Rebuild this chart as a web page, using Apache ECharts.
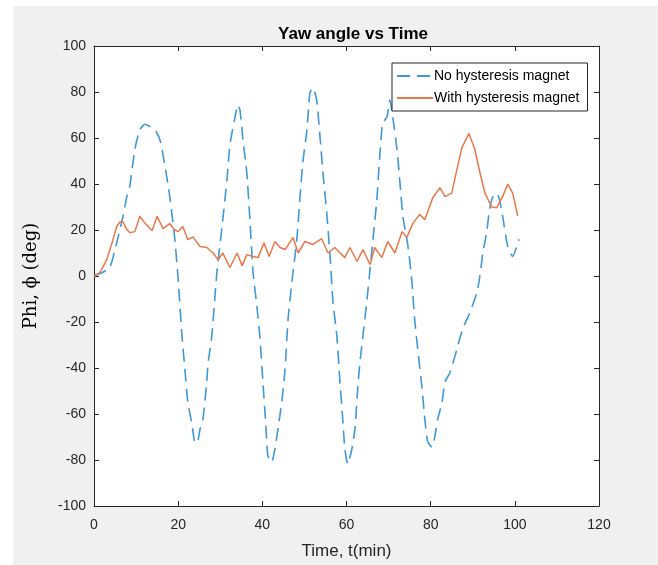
<!DOCTYPE html>
<html>
<head>
<meta charset="utf-8">
<script src="https://cdn.jsdelivr.net/npm/echarts@6/dist/echarts.min.js"></script>
<style>
html,body{margin:0;padding:0;background:#fff;}
#main{width:658px;height:565px;}
</style>
</head>
<body>
<div id="main"></div>
<script>
// ---- data ----
var titleText = 'Yaw angle vs Time';
var xName = 'Time, t(min)';
var yName = 'Phi, \u03d5 (deg)';
var seriesNames = ['No hysteresis magnet', 'With hysteresis magnet'];
var xTicks = [0, 20, 40, 60, 80, 100, 120];
var yTicks = [-100, -80, -60, -40, -20, 0, 20, 40, 60, 80, 100];

var noHystT = [0,2,3.8,5,6.9,7.8,8.5,9.7,10.9,12.1,13.3,14.5,15.7,16.9,18,19.2,20,20.9,21.6,22.3,23.2,23.9,24.5,25.2,25.9,26.8,27.1,28,29.2,30.4,31.6,32.3,33.5,34.2,34.7,35.4,36.3,37,37.8,38.6,39.4,40.1,40.8,41.3,42.2,43,43.7,44.6,45.4,46.1,47,48.2,48.9,49.6,50.6,51.3,52,52.9,53.7,54.4,55.3,56.1,56.8,57.7,58.4,59.1,59.6,60.3,61.3,62,62.7,63.2,63.9,64.8,65.6,66.3,67.2,67.9,68.6,69.6,70.3,71,72,72.7,73.4,74.6,75.5,76.2,77,77.9,78.6,79.3,80.3,81,81.7,82.7,83.4,84.6,86.2,87.6,89.3,91,91.7,92.4,93.3,94,94.8,95.7,96.4,97.1,98.3,99.5,100.5,101];
var noHystV = [0,1.5,4,11.5,26,34.5,39,55,63.6,66,65,63.6,59,47.5,34.5,16,-1.5,-26,-40.5,-55,-63.6,-71.8,-72.7,-66.6,-62,-46,-38,-26,1.5,21,42,57,69,74.4,72,59,45,26,1.5,-11.5,-26,-45,-64,-78,-81,-75,-66.6,-55,-40.5,-19,-3,16,33,49,63.6,79.6,81.8,76.6,60.6,45,27.5,8.5,-11.5,-26,-45,-62,-75,-81.8,-75,-66.6,-48,-37.5,-26,-11.5,3,16,33,52,66.6,69,76.6,69,55,40.5,26,13,-1.5,-19,-33,-48,-62,-72,-74.4,-69.6,-62,-55,-46,-42,-32,-23,-16,-7,0,10,19,29,34.5,36,33,26,13,8.5,13,16];

var withHystT = [0,1.4,3,4.3,5.4,6.2,6.9,7.7,8.5,9.7,10.9,12.1,13.8,15,16.4,18,19.2,20,21.1,22.3,23.5,25.2,26.8,28.3,29.5,30.6,32.3,34,35.2,36.3,37.8,39,40.4,41.6,43,44.2,45.4,47.3,48.5,50.1,52,54.1,55.6,57.2,59.6,60.8,62.5,63.9,65.6,66.7,68.4,69.8,71.5,73.2,74.3,75.8,77.4,78.6,80.5,82.2,83.4,85,86.2,87.4,89.1,90.5,91.7,92.9,94.5,95.7,97.1,98.3,99.5,100.7];
var withHystV = [0,1.5,7,14.5,21.5,23.6,23.6,20.5,18.8,19.3,26,23,19.7,26,20.6,22.8,20,19.3,21.5,15.8,17,12.8,12.4,10,7,10,3.7,10,4.5,9.3,8.5,8,14.5,8.5,15,12.4,11.5,16.7,10,15,13.7,16.2,10,12.4,8,12.4,6.3,11.5,5,12.4,8,15,10,19.3,16.7,23,26.7,24.5,34,38.4,34.5,36,46,55.7,62,55,45,36,30,29.7,34.5,40,36,26];

function pairs(t, v) { return t.map(function (x, i) { return [x, v[i]]; }); }

var FONT = "'Liberation Sans', Arial, Helvetica, sans-serif";
var AX = '#262626';
var chart = echarts.init(document.getElementById('main'), null, {renderer: 'canvas'});

var baseX = {
  type: 'value', min: xTicks[0], max: xTicks[xTicks.length - 1], interval: 20,
  axisLine: {show: true, onZero: false, lineStyle: {color: AX, width: 1}},
  axisTick: {show: true, inside: true, length: 5, lineStyle: {color: AX}},
  splitLine: {show: false}
};
var baseY = {
  type: 'value', min: yTicks[0], max: yTicks[yTicks.length - 1], interval: 20,
  axisLine: {show: true, onZero: false, lineStyle: {color: AX, width: 1}},
  axisTick: {show: true, inside: true, length: 5, lineStyle: {color: AX}},
  splitLine: {show: false}
};

chart.setOption({
  backgroundColor: '#ffffff',
  animation: false,
  graphic: [{
    type: 'rect', z: -10, silent: true,
    shape: {x: 13, y: 6, width: 658 - 13, height: 565 - 6},
    style: {fill: '#f0f0f0'}
  }],
  title: {
    text: titleText, left: 348, top: 21, textAlign: 'center',
    textStyle: {fontFamily: FONT, fontSize: 17, fontWeight: 'bold', color: '#000'}
  },
  grid: {left: 94, right: 59, top: 46, bottom: 58, show: true, backgroundColor: '#ffffff', borderWidth: 0, containLabel: false},
  legend: {
    orient: 'vertical', left: 392, top: 63,
    itemWidth: 36, itemHeight: 12, itemGap: 8,
    padding: [6, 8, 6, 4],
    backgroundColor: '#ffffff', borderColor: AX, borderWidth: 1, borderRadius: 0,
    itemStyle: {opacity: 0},
    textStyle: {fontFamily: FONT, fontSize: 14, color: '#000', padding: [0, 0, 0, -4]},
    data: seriesNames
  },
  xAxis: [
    Object.assign({}, baseX, {
      position: 'bottom',
      axisLabel: {show: true, margin: 12, fontFamily: FONT, fontSize: 14, color: AX},
      name: xName, nameLocation: 'middle', nameGap: 37,
      nameTextStyle: {fontFamily: FONT, fontSize: 17, color: AX}
    }),
    Object.assign({}, baseX, {position: 'top', axisLabel: {show: false}})
  ],
  yAxis: [
    Object.assign({}, baseY, {
      position: 'left',
      axisLabel: {show: true, margin: 8, fontFamily: FONT, fontSize: 14, color: AX},
      name: yName, nameLocation: 'middle', nameGap: 54,
      nameTextStyle: {fontFamily: "'DejaVu Serif', serif", fontSize: 18, color: '#000'}
    }),
    Object.assign({}, baseY, {position: 'right', axisLabel: {show: false}})
  ],
  series: [
    {
      name: seriesNames[0], type: 'line', xAxisIndex: 0, yAxisIndex: 0,
      data: pairs(noHystT, noHystV), showSymbol: false, symbol: 'none', smooth: 0.2,
      lineStyle: {color: '#3f98d8', width: 1.6, type: [13, 7]},
      itemStyle: {color: '#3f98d8'}
    },
    {
      name: seriesNames[1], type: 'line', xAxisIndex: 0, yAxisIndex: 0,
      data: pairs(withHystT, withHystV), showSymbol: false, symbol: 'none',
      lineStyle: {color: '#e8784a', width: 1.5},
      itemStyle: {color: '#e8784a'}
    }
  ]
});
</script>
</body>
</html>
